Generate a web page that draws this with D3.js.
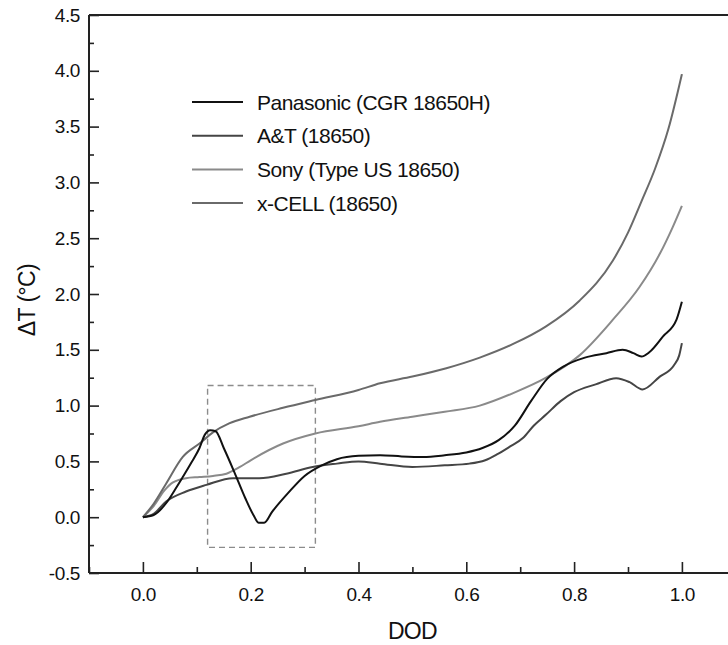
<!DOCTYPE html>
<html>
<head>
<meta charset="utf-8">
<script src="https://cdn.jsdelivr.net/npm/d3@7"></script>
<style>
  body { margin: 0; background: #fff; }
  svg text { font-family: "Liberation Sans", Arial, Helvetica, sans-serif; fill: #111; }
</style>
</head>
<body>
<div id="chart"></div>
<script>
// values
var series_names = ["Panasonic (CGR 18650H)", "A&T (18650)", "Sony (Type US 18650)", "x-CELL (18650)"];
var series_colors = ["#111111", "#454545", "#8a8a8a", "#6a6a6a"];

var panasonic_dod = [0, 0.02, 0.043, 0.06, 0.074, 0.09, 0.105, 0.115, 0.125, 0.135, 0.15, 0.17, 0.19, 0.205, 0.215, 0.225, 0.24, 0.27, 0.3, 0.33, 0.36, 0.4, 0.44, 0.48, 0.52, 0.56, 0.6, 0.63, 0.66, 0.69, 0.72, 0.75, 0.78, 0.82, 0.86, 0.89, 0.91, 0.925, 0.94, 0.965, 0.99, 1.0];
var panasonic_dt  = [0, 0.02, 0.125, 0.25, 0.36, 0.49, 0.62, 0.74, 0.78, 0.77, 0.62, 0.40, 0.17, 0.02, -0.05, -0.05, 0.05, 0.22, 0.37, 0.46, 0.52, 0.55, 0.555, 0.545, 0.54, 0.555, 0.58, 0.62, 0.69, 0.82, 1.04, 1.24, 1.35, 1.43, 1.47, 1.50, 1.47, 1.44, 1.48, 1.62, 1.77, 1.93];

var at_dod = [0, 0.02, 0.043, 0.08, 0.118, 0.167, 0.216, 0.266, 0.315, 0.36, 0.4, 0.44, 0.5, 0.56, 0.606, 0.635, 0.656, 0.68, 0.705, 0.725, 0.748, 0.775, 0.8, 0.84, 0.878, 0.903, 0.927, 0.959, 0.985, 0.995, 1.0];
var at_dt  = [0, 0.03, 0.14, 0.23, 0.29, 0.35, 0.35, 0.39, 0.45, 0.48, 0.5, 0.48, 0.45, 0.465, 0.48, 0.51, 0.56, 0.63, 0.71, 0.82, 0.92, 1.04, 1.12, 1.19, 1.245, 1.21, 1.145, 1.26, 1.36, 1.45, 1.56];

var sony_dod = [0, 0.02, 0.04, 0.055, 0.08, 0.105, 0.13, 0.155, 0.18, 0.2, 0.26, 0.32, 0.4, 0.44, 0.5, 0.56, 0.625, 0.686, 0.748, 0.81, 0.872, 0.921, 0.959, 0.983, 1.0];
var sony_dt  = [0, 0.1, 0.24, 0.31, 0.35, 0.36, 0.37, 0.39, 0.45, 0.51, 0.66, 0.75, 0.815, 0.855, 0.90, 0.945, 1.0, 1.11, 1.25, 1.45, 1.77, 2.06, 2.36, 2.6, 2.79];

var xcell_dod = [0, 0.02, 0.043, 0.074, 0.105, 0.13, 0.16, 0.198, 0.26, 0.32, 0.4, 0.44, 0.5, 0.563, 0.625, 0.686, 0.748, 0.81, 0.872, 0.9, 0.925, 0.95, 0.975, 1.0];
var xcell_dt  = [0, 0.12, 0.30, 0.54, 0.66, 0.76, 0.84, 0.90, 0.98, 1.05, 1.14, 1.20, 1.26, 1.335, 1.43, 1.55, 1.71, 1.94, 2.30, 2.55, 2.83, 3.12, 3.48, 3.97];

var x_major = [0, 0.2, 0.4, 0.6, 0.8, 1.0];
var x_minor = [-0.1, 0.1, 0.3, 0.5, 0.7, 0.9];
var y_major = [-0.5, 0, 0.5, 1.0, 1.5, 2.0, 2.5, 3.0, 3.5, 4.0, 4.5];
var y_minor = [-0.25, 0.25, 0.75, 1.25, 1.75, 2.25, 2.75, 3.25, 3.75, 4.25];

// dashed box around the dip
var box_dod = [0.12, 0.32];
var box_dt  = [-0.27, 1.18];

var width  = 728;
var height = 645;

var svg = d3.select("#chart").append("svg")
    .attr("width", width)
    .attr("height", height);

var x = d3.scaleLinear().domain([-0.1, 1.1]).range([89, 89 + 1.2 * 539]);
var y = d3.scaleLinear().domain([-0.5, 4.5]).range([573, 15]);

function zip(xs, ys) {
    return xs.map(function(v, i) { return [v, ys[i]]; });
}
var all_series = [
    zip(panasonic_dod, panasonic_dt),
    zip(at_dod, at_dt),
    zip(sony_dod, sony_dt),
    zip(xcell_dod, xcell_dt)
];

// axes
var axis_color = "#222";

var gx = svg.append("g").attr("transform", "translate(0," + y(-0.5) + ")");
gx.call(d3.axisBottom(x).tickValues(x_major).tickSizeInner(-11).tickSizeOuter(0).tickPadding(15)
    .tickFormat(function(d) { return d.toFixed(1); }));
gx.append("g").call(d3.axisBottom(x).tickValues(x_minor).tickSizeInner(-6).tickSizeOuter(0).tickFormat(""));
gx.selectAll(".domain").remove();
gx.append("line").attr("x1", 89).attr("x2", width).attr("y1", 0).attr("y2", 0)
    .attr("stroke", axis_color).attr("stroke-width", 2);

var gy = svg.append("g").attr("transform", "translate(" + x(-0.1) + ",0)");
gy.call(d3.axisLeft(y).tickValues(y_major).tickSizeInner(-10).tickSizeOuter(0).tickPadding(9)
    .tickFormat(function(d) { return d.toFixed(1); }));
gy.append("g").call(d3.axisLeft(y).tickValues(y_minor).tickSizeInner(-5).tickSizeOuter(0).tickFormat(""));
gy.selectAll(".domain").remove();
gy.append("line").attr("x1", 0).attr("x2", 0).attr("y1", y(4.5)).attr("y2", y(-0.5))
    .attr("stroke", axis_color).attr("stroke-width", 2);

svg.selectAll(".tick line").attr("stroke", axis_color).attr("stroke-width", 1.6);
svg.selectAll(".tick text").attr("font-size", 19).attr("fill", "#111")
    .attr("letter-spacing", "-0.4")
    .style("font-family", "'Liberation Sans', Arial, sans-serif");

// top frame line
svg.append("line")
    .attr("x1", x(-0.1)).attr("x2", width)
    .attr("y1", y(4.5)).attr("y2", y(4.5))
    .attr("stroke", axis_color).attr("stroke-width", 2);

// dashed box
svg.append("rect")
    .attr("x", x(box_dod[0]))
    .attr("y", y(box_dt[1]))
    .attr("width", x(box_dod[1]) - x(box_dod[0]))
    .attr("height", y(box_dt[0]) - y(box_dt[1]))
    .attr("fill", "none")
    .attr("stroke", "#8c8c8c")
    .attr("stroke-width", 1.4)
    .attr("stroke-dasharray", "6,4");

// curves
var line = d3.line()
    .x(function(d) { return x(d[0]); })
    .y(function(d) { return y(d[1]); })
    .curve(d3.curveMonotoneX);

// draw lighter ones first, black on top
[2, 3, 1, 0].forEach(function(k) {
    svg.append("path")
        .datum(all_series[k])
        .attr("d", line)
        .attr("fill", "none")
        .attr("stroke", series_colors[k])
        .attr("stroke-width", 2)
        .attr("stroke-linejoin", "round");
});

// legend
var legend = svg.append("g");
series_names.forEach(function(name, i) {
    var ly = 102 + i * 33.7;
    legend.append("line")
        .attr("x1", 192).attr("x2", 243)
        .attr("y1", ly).attr("y2", ly)
        .attr("stroke", series_colors[i])
        .attr("stroke-width", 2);
    legend.append("text")
        .attr("x", 257).attr("y", ly + 7.5)
        .attr("font-size", 21)
        .attr("letter-spacing", "-0.5")
        .text(name);
});

// axis titles
svg.append("text")
    .attr("x", (x(0) + x(1)) / 2)
    .attr("y", 639)
    .attr("text-anchor", "middle")
    .attr("font-size", 23)
    .attr("letter-spacing", "-0.8")
    .text("DOD");

svg.append("text")
    .attr("transform", "translate(35,300) rotate(-90)")
    .attr("text-anchor", "middle")
    .attr("font-size", 23)
    .attr("letter-spacing", "-0.6")
    .text("ΔT (°C)");
</script>
</body>
</html>
